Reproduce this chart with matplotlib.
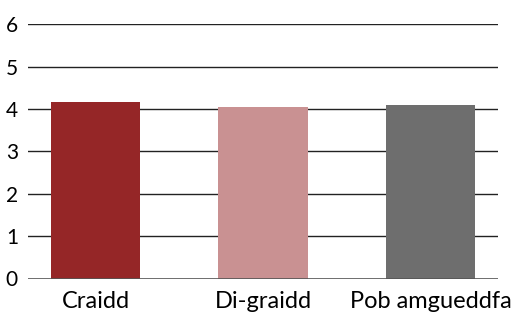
import matplotlib
matplotlib.use("Agg")
import matplotlib.pyplot as plt

categories = ["Craidd", "Di-graidd", "Pob amgueddfa"]
values = [4.17, 4.05, 4.1]
colors = ["#952627", "#c99192", "#6e6e6e"]

plt.rcParams["font.family"] = ["Lato", "DejaVu Sans"]

W, H = 530, 316
fig = plt.figure(figsize=(W / 100, H / 100), dpi=100)
left, right = 27.7 / W, 497.7 / W
bottom, top = (H - 278.5) / H, (H - 24.3) / H
ax = fig.add_axes([left, bottom, right - left, top - bottom])

x = list(range(len(categories)))
ax.bar(x, values, width=0.535, color=colors, zorder=3)

ax.set_xlim(-0.405, 2.40)
ax.set_ylim(0, 6)
ax.set_yticks(range(0, 7))
for yv in range(1, 7):
    ax.axhline(yv, color="#222222", linewidth=1.0, zorder=1)
ax.axhline(0, color="#555555", linewidth=1.2, zorder=4)

ax.set_xticks(x)
ax.set_xticklabels(categories, fontsize=17)
ax.tick_params(axis="y", labelsize=15, length=0, pad=7)
ax.tick_params(axis="x", length=0, pad=9)
for s in ax.spines.values():
    s.set_visible(False)

fig.savefig("out.png", dpi=100)
